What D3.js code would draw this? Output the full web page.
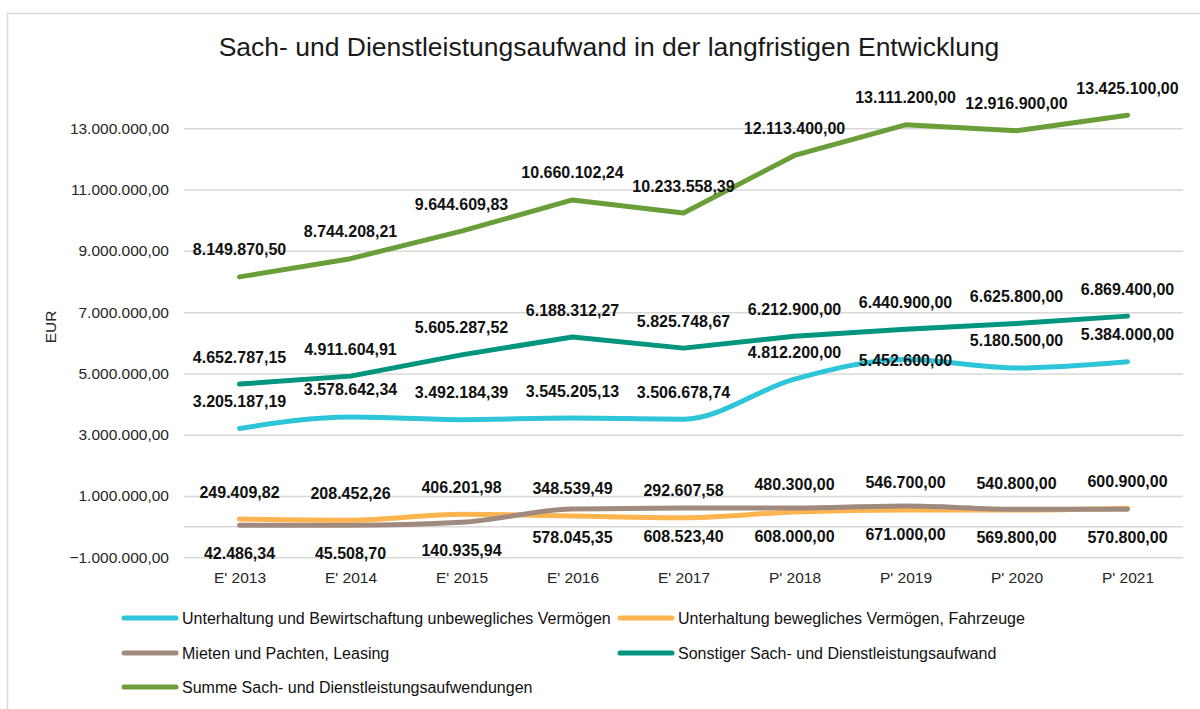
<!DOCTYPE html>
<html lang="de">
<head>
<meta charset="utf-8">
<title>Sach- und Dienstleistungsaufwand</title>
<script src="https://cdn.jsdelivr.net/npm/d3@7/dist/d3.min.js"></script>
<style>
  html, body { margin: 0; padding: 0; background: #fff; }
  svg { display: block; font-family: "Liberation Sans", Arial, sans-serif; }
</style>
</head>
<body>
<svg id="chart" width="1200" height="709"></svg>
<script>
// Jahre (E' = Ergebnis, P' = Plan)
const categories = ["E' 2013", "E' 2014", "E' 2015", "E' 2016", "E' 2017", "P' 2018", "P' 2019", "P' 2020", "P' 2021"];

const seriesNames = [
  "Unterhaltung und Bewirtschaftung unbewegliches Vermögen",
  "Unterhaltung bewegliches Vermögen, Fahrzeuge",
  "Mieten und Pachten, Leasing",
  "Sonstiger Sach- und Dienstleistungsaufwand",
  "Summe Sach- und Dienstleistungsaufwendungen"
];

const unbeweglich = [3205187.19, 3578642.34, 3492184.39, 3545205.13, 3506678.74, 4812200.00, 5452600.00, 5180500.00, 5384000.00];
const beweglich   = [249409.82, 208452.26, 406201.98, 348539.49, 292607.58, 480300.00, 546700.00, 540800.00, 600900.00];
const mieten      = [42486.34, 45508.70, 140935.94, 578045.35, 608523.40, 608000.00, 671000.00, 569800.00, 570800.00];
const sonstiger   = [4652787.15, 4911604.91, 5605287.52, 6188312.27, 5825748.67, 6212900.00, 6440900.00, 6625800.00, 6869400.00];
const summe       = [8149870.50, 8744208.21, 9644609.83, 10660102.24, 10233558.39, 12113400.00, 13111200.00, 12916900.00, 13425100.00];

const yTickValues = [-1000000, 1000000, 3000000, 5000000, 7000000, 9000000, 11000000, 13000000];
const yDomain = [-1000000, 14000000];

// Darstellung je Reihe
const seriesStyle = [
  { color: "#2ec5d9", smooth: true,  label: "above" },
  { color: "#ffb44f", smooth: true,  label: "above" },
  { color: "#a08a80", smooth: true,  label: "below" },
  { color: "#00957f", smooth: false, label: "above" },
  { color: "#6a9e38", smooth: false, label: "above" }
];
const seriesValues = [unbeweglich, beweglich, mieten, sonstiger, summe];
// Beschriftung auf dem Punkt statt darüber (Reihe -> Punktindizes)
const labelsOnPoint = { 0: [6] };

const de = d3.formatLocale({ decimal: ",", thousands: ".", grouping: [3], currency: ["", " €"] });
const fmt = de.format(",.2f");

const svg = d3.select("#chart");

// Rahmen
svg.append("rect")
  .attr("x", 7.5).attr("y", 13.5)
  .attr("width", 1400).attr("height", 900)
  .attr("fill", "none").attr("stroke", "#d9d9d9").attr("stroke-width", 1.5);

// Titel
svg.append("text")
  .attr("x", 609).attr("y", 56)
  .attr("text-anchor", "middle")
  .attr("font-size", 26.5)
  .attr("fill", "#1a1a1a")
  .text("Sach- und Dienstleistungsaufwand in der langfristigen Entwicklung");

const plot = { left: 184, right: 1183, top: 97.6, bottom: 557.3 };

const x = d3.scalePoint().domain(categories).range([plot.left, plot.right]).padding(0.5);
const y = d3.scaleLinear().domain(yDomain).range([plot.bottom, plot.top]);

// Gitterlinien + Y-Achse
const yAxis = d3.axisLeft(y).tickValues(yTickValues).tickFormat(fmt).tickSize(0).tickPadding(0);
const yg = svg.append("g").attr("transform", `translate(${plot.left},0)`).call(yAxis);
yg.select(".domain").remove();
yg.selectAll(".tick text")
  .attr("x", -15)
  .attr("font-size", 15.5)
  .attr("font-family", "Liberation Sans, Arial, sans-serif")
  .attr("fill", "#262626");
yg.selectAll(".tick line")
  .attr("x2", plot.right - plot.left)
  .attr("stroke", "#d9d9d9").attr("stroke-width", 1.5);

// Nulllinie (Kategorienachse)
svg.append("line")
  .attr("x1", plot.left).attr("x2", plot.right)
  .attr("y1", y(0)).attr("y2", y(0))
  .attr("stroke", "#d9d9d9").attr("stroke-width", 1.5);

// X-Achse (Kategorien unter dem Diagramm)
const xAxis = d3.axisBottom(x).tickSize(0).tickPadding(0);
const xg = svg.append("g").attr("transform", `translate(0,${plot.bottom})`).call(xAxis);
xg.select(".domain").remove();
xg.selectAll(".tick text")
  .attr("y", 25.5)
  .attr("dy", 0)
  .attr("font-size", 15.5)
  .attr("font-family", "Liberation Sans, Arial, sans-serif")
  .attr("fill", "#262626");

// Achsentitel
svg.append("text")
  .attr("transform", "translate(56,327) rotate(-90)")
  .attr("text-anchor", "middle")
  .attr("font-size", 15.5)
  .attr("fill", "#262626")
  .text("EUR");

// Linien
seriesValues.forEach((vals, si) => {
  const st = seriesStyle[si];
  const line = d3.line()
    .x((d, i) => x(categories[i]))
    .y(d => y(d))
    .curve(st.smooth ? d3.curveMonotoneX : d3.curveLinear);
  svg.append("path")
    .datum(vals)
    .attr("d", line)
    .attr("fill", "none")
    .attr("stroke", st.color)
    .attr("stroke-width", 5)
    .attr("stroke-linecap", "round")
    .attr("stroke-linejoin", "round");
});

// Datenbeschriftungen
seriesValues.forEach((vals, si) => {
  const st = seriesStyle[si];
  const onPoint = labelsOnPoint[si] || [];
  svg.append("g").selectAll("text")
    .data(vals)
    .join("text")
    .attr("x", (d, i) => x(categories[i]))
    .attr("y", (d, i) => {
      if (onPoint.includes(i)) return y(d) + 6;
      return st.label === "below" ? y(d) + 34 : y(d) - 21.5;
    })
    .attr("text-anchor", "middle")
    .attr("font-size", 16)
    .attr("font-weight", "bold")
    .attr("fill", "#111")
    .text(d => fmt(d));
});

// Legende
const legendPos = [
  { x: 122, y: 618 },
  { x: 618, y: 618 },
  { x: 122, y: 653 },
  { x: 618, y: 653 },
  { x: 122, y: 687 }
];
const lg = svg.append("g");
seriesNames.forEach((name, i) => {
  const p = legendPos[i];
  lg.append("line")
    .attr("x1", p.x + 2).attr("x2", p.x + 54)
    .attr("y1", p.y).attr("y2", p.y)
    .attr("stroke", seriesStyle[i].color)
    .attr("stroke-width", 5)
    .attr("stroke-linecap", "round");
  lg.append("text")
    .attr("x", p.x + 60).attr("y", p.y + 5.5)
    .attr("font-size", 16)
    .attr("fill", "#111")
    .text(name);
});
</script>
</body>
</html>
